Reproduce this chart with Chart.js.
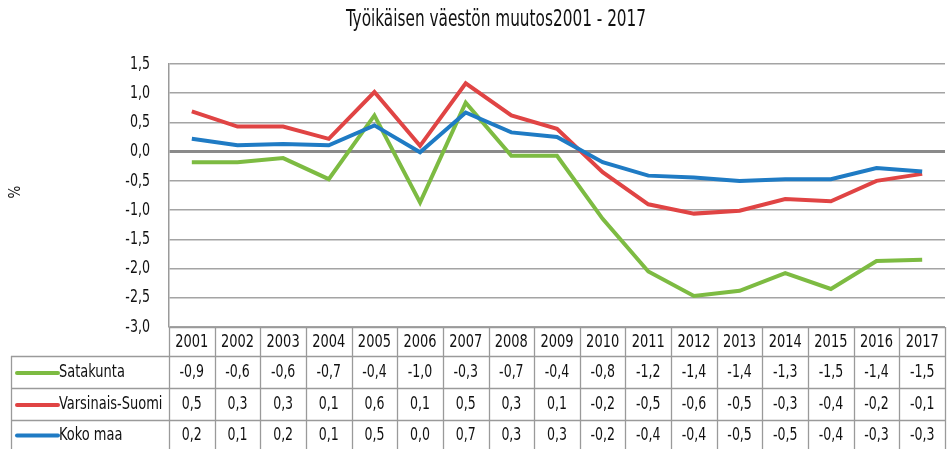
<!DOCTYPE html>
<html>
<head>
<meta charset="utf-8">
<script src="https://cdn.jsdelivr.net/npm/chart.js@4.4.1/dist/chart.umd.min.js"></script>
<style>
  html, body { margin: 0; padding: 0; background: #fff; }
  #wrap { width: 947px; height: 449px; }
</style>
</head>
<body>
<div id="wrap"><canvas id="chart" width="947" height="449"></canvas></div>
<script>
const years = ["2001","2002","2003","2004","2005","2006","2007","2008","2009","2010","2011","2012","2013","2014","2015","2016","2017"];
const seriesNames = ["Satakunta", "Varsinais-Suomi", "Koko maa"];
const seriesColors = ["#7dbb42", "#e04444", "#1f7bc4"];

// plotted lines
const satakunta = [-0.18, -0.18, -0.11, -0.47, 0.62, -0.87, 0.84, -0.07, -0.07, -1.15, -2.05, -2.47, -2.38, -2.08, -2.35, -1.87, -1.85];
const varsinaisSuomi = [0.69, 0.43, 0.43, 0.22, 1.02, 0.10, 1.17, 0.62, 0.39, -0.35, -0.90, -1.06, -1.01, -0.81, -0.85, -0.50, -0.38];
const kokoMaa = [0.22, 0.11, 0.13, 0.11, 0.45, -0.01, 0.67, 0.33, 0.25, -0.18, -0.41, -0.44, -0.50, -0.47, -0.47, -0.28, -0.34];

// values in the data table under the chart
const tableSatakunta = [-0.9, -0.6, -0.6, -0.7, -0.4, -1.0, -0.3, -0.7, -0.4, -0.8, -1.2, -1.4, -1.4, -1.3, -1.5, -1.4, -1.5];
const tableVarsinaisSuomi = [0.5, 0.3, 0.3, 0.1, 0.6, 0.1, 0.5, 0.3, 0.1, -0.2, -0.5, -0.6, -0.5, -0.3, -0.4, -0.2, -0.1];
const tableKokoMaa = [0.2, 0.1, 0.2, 0.1, 0.5, 0.0, 0.7, 0.3, 0.3, -0.2, -0.4, -0.4, -0.5, -0.5, -0.4, -0.3, -0.3];
const tableRows = [tableSatakunta, tableVarsinaisSuomi, tableKokoMaa];

const titleText = "Työikäisen väestön muutos2001 - 2017";
const font = "'Liberation Sans Narrow', 'DejaVu Sans Condensed', sans-serif";

function fi(v) {
  return v.toFixed(1).replace(".", ",");
}

// condensed text, the original uses a narrow font
function txt(ctx, s, x, y, size, sx, align) {
  ctx.save();
  ctx.translate(x, y);
  ctx.scale(sx, 1);
  ctx.font = size + "px " + font;
  ctx.textAlign = align;
  ctx.textBaseline = "middle";
  ctx.fillText(s, 0, 0);
  ctx.restore();
}

const tablePlugin = {
  id: "tablePlugin",
  afterDraw(chart) {
    const ctx = chart.ctx;
    const x = chart.scales.x;
    const yS = chart.scales.y;
    const area = chart.chartArea;
    const colW = (area.right - area.left) / years.length;
    const rowTops = [area.bottom, 356, 388, 420, 449];
    const tableLeft = 11;

    ctx.save();
    ctx.fillStyle = "#111";
    // title
    txt(ctx, titleText, 496, 20, 23, 0.74, "center");

    // y ticks
    yS.ticks.forEach(t => {
      txt(ctx, fi(t.value), 150, yS.getPixelForValue(t.value), 18, 0.78, "right");
    });

    // y title
    ctx.save();
    ctx.translate(16, 192);
    ctx.rotate(-Math.PI / 2);
    txt(ctx, "%", 0, 0, 15, 1, "center");
    ctx.restore();

    // table lines
    ctx.strokeStyle = "#9a9a9a";
    ctx.lineWidth = 1.3;
    ctx.beginPath();
    for (let i = 0; i <= years.length; i++) {
      const lx = Math.round(area.left + i * colW) + 0.5;
      ctx.moveTo(lx, area.bottom);
      ctx.lineTo(lx, 449);
    }
    ctx.moveTo(tableLeft + 0.5, rowTops[1]);
    ctx.lineTo(tableLeft + 0.5, 449);
    for (let r = 1; r <= 3; r++) {
      ctx.moveTo(tableLeft, rowTops[r] + 0.5);
      ctx.lineTo(area.right, rowTops[r] + 0.5);
    }
    ctx.moveTo(area.left, area.bottom + 0.5);
    ctx.lineTo(area.right, area.bottom + 0.5);
    ctx.stroke();

    // header years
    years.forEach((y, i) => {
      txt(ctx, y, x.getPixelForValue(i), (rowTops[0] + rowTops[1]) / 2 + 1, 17, 0.85, "center");
    });

    // rows
    tableRows.forEach((row, r) => {
      const cy = (rowTops[r + 1] + rowTops[r + 2]) / 2 + 1;
      ctx.strokeStyle = seriesColors[r];
      ctx.lineWidth = 4;
      ctx.lineCap = "round";
      ctx.beginPath();
      ctx.moveTo(17, cy);
      ctx.lineTo(58, cy);
      ctx.stroke();
      txt(ctx, seriesNames[r], 59, cy, 17, 0.85, "left");
      row.forEach((v, i) => {
        txt(ctx, fi(v), x.getPixelForValue(i), cy, 17, 0.82, "center");
      });
    });
    ctx.restore();
  }
};

const ctx = document.getElementById("chart").getContext("2d");
new Chart(ctx, {
  type: "line",
  data: {
    labels: years,
    datasets: [
      { label: seriesNames[0], data: satakunta, borderColor: seriesColors[0], order: 3 },
      { label: seriesNames[1], data: varsinaisSuomi, borderColor: seriesColors[1], order: 2 },
      { label: seriesNames[2], data: kokoMaa, borderColor: seriesColors[2], order: 1 }
    ]
  },
  options: {
    responsive: false,
    animation: false,
    layout: { padding: { top: 64, right: 2, bottom: 122, left: 0 } },
    elements: {
      line: { borderWidth: 4, tension: 0, fill: false },
      point: { radius: 0 }
    },
    plugins: {
      legend: { display: false },
      tooltip: { enabled: false },
      title: { display: false }
    },
    scales: {
      x: {
        display: false,
        offset: true
      },
      y: {
        min: -3,
        max: 1.5,
        afterFit(scale) { scale.width = 169; },
        border: { display: true, color: "#9a9a9a", width: 1.5 },
        grid: {
          drawTicks: false,
          color: ctx => ctx.tick && ctx.tick.value === 0 ? "#8a8a8a" : "#a4a4a4",
          lineWidth: ctx => ctx.tick && ctx.tick.value === 0 ? 3 : 1.5
        },
        ticks: {
          stepSize: 0.5,
          display: false
        }
      }
    }
  },
  plugins: [tablePlugin]
});
</script>
</body>
</html>
